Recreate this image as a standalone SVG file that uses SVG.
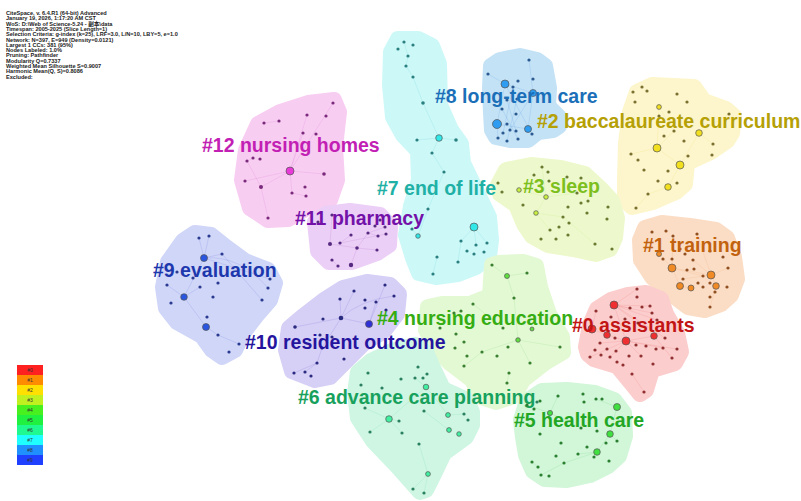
<svg xmlns="http://www.w3.org/2000/svg" width="801" height="501" viewBox="0 0 801 501">
<style>
.hull{stroke-width:16;stroke-linejoin:round}
.lbl{font-family:"Liberation Sans",Arial,sans-serif;font-weight:bold;font-size:19.5px}
.hdr{font-family:"Liberation Sans","Noto Sans CJK SC",sans-serif;font-weight:bold;font-size:5.6px;fill:#222}
.leg{font-family:"Liberation Sans",sans-serif;font-size:5px;fill:#333;text-anchor:middle}
.lk{fill:none;stroke-width:0.5;stroke-opacity:0.35}
.b{stroke:#555;stroke-width:0.7}
</style>
<rect width="801" height="501" fill="#ffffff"/>
<g id="header">
<text class="hdr" x="6" y="15">CiteSpace, v. 6.4.R1 (64-bit) Advanced</text>
<text class="hdr" x="6" y="20.3">January 19, 2026, 1:17:20 AM CST</text>
<text class="hdr" x="6" y="25.6">WoS: D:\Web of Science-5.24 - 副本\data</text>
<text class="hdr" x="6" y="30.9">Timespan: 2005-2025 (Slice Length=1)</text>
<text class="hdr" x="6" y="36.2">Selection Criteria: g-index (k=25), LRF=3.0, L/N=10, LBY=5, e=1.0</text>
<text class="hdr" x="6" y="41.5">Network: N=397, E=949 (Density=0.0121)</text>
<text class="hdr" x="6" y="46.8">Largest 1 CCs: 381 (95%)</text>
<text class="hdr" x="6" y="52.1">Nodes Labeled: 1.0%</text>
<text class="hdr" x="6" y="57.4">Pruning: Pathfinder</text>
<text class="hdr" x="6" y="62.7">Modularity Q=0.7337</text>
<text class="hdr" x="6" y="68">Weighted Mean Silhouette S=0.9007</text>
<text class="hdr" x="6" y="73.3">Harmonic Mean(Q, S)=0.8086</text>
<text class="hdr" x="6" y="78.6">Excluded:</text>
</g>
<g id="legend">
<rect x="17" y="365" width="26" height="10" fill="#ff2020"/>
<rect x="17" y="375" width="26" height="10" fill="#ff8c00"/>
<rect x="17" y="385" width="26" height="10" fill="#ffe000"/>
<rect x="17" y="395" width="26" height="10" fill="#c0f020"/>
<rect x="17" y="405" width="26" height="10" fill="#48f020"/>
<rect x="17" y="415" width="26" height="10" fill="#20f040"/>
<rect x="17" y="425" width="26" height="10" fill="#20f890"/>
<rect x="17" y="435" width="26" height="10" fill="#20ffff"/>
<rect x="17" y="445" width="26" height="10" fill="#2090ff"/>
<rect x="17" y="455" width="26" height="10" fill="#2040ff"/>
<text class="leg" x="30" y="371.8">#0</text>
<text class="leg" x="30" y="381.8">#1</text>
<text class="leg" x="30" y="391.8">#2</text>
<text class="leg" x="30" y="401.8">#3</text>
<text class="leg" x="30" y="411.8">#4</text>
<text class="leg" x="30" y="421.8">#5</text>
<text class="leg" x="30" y="431.8">#6</text>
<text class="leg" x="30" y="441.8">#7</text>
<text class="leg" x="30" y="451.8">#8</text>
<text class="leg" x="30" y="461.8">#9</text>
</g>
<g id="hulls">
<polygon class="hull" fill="#f8cdf2" stroke="#f8cdf2" points="242,180 246,150 258,124 280,112 308,103 334,100 339,112 335,147 337,180 330,200 305,209 288,219 268,220 250,208"/>
<polygon class="hull" fill="#eccff6" stroke="#eccff6" points="315,222 326,214 350,211 380,215 390,226 389,245 377,253 352,262 329,262 318,251"/>
<polygon class="hull" fill="#d0d6f8" stroke="#d0d6f8" points="163,287 168,262 183,241 195,233 211,235 226,247 245,261 268,270 275,283 270,300 257,315 244,332 235,350 222,357 212,350 202,336 177,322 166,308"/>
<polygon class="hull" fill="#d6cff6" stroke="#d6cff6" points="286,350 289,328 302,317 324,300 343,288 367,282 390,285 399,294 397,314 384,331 363,344 344,363 330,377 315,380 292,371"/>
<polygon class="hull" fill="#cdf8f8" stroke="#cdf8f8" points="391,52 398,39 418,39 432,46 439,64 440,105 451,130 461,144 463,163 476,190 489,217 491,240 489,257 476,267 458,274 436,277 419,273 413,258 406,235 411,206 419,180 418,151 403,135 393,117 390,85"/>
<polygon class="hull" fill="#c4e2f6" stroke="#c4e2f6" points="491,66 500,60 520,56 537,60 545,66 549,88 548,106 559,117 559,126 553,130 538,132 528,140 510,140 496,137 492,130 491,113 490,88"/>
<polygon class="hull" fill="#fdf6cc" stroke="#fdf6cc" points="626,143 630,112 637,92 652,85 694,87 704,101 726,109 734,116 732,133 727,141 711,152 687,163 685,184 676,192 653,202 632,207 625,200 625,180"/>
<polygon class="hull" fill="#edf9cd" stroke="#edf9cd" points="498,185 506,170 531,165 561,168 585,174 600,188 612,201 617,218 615,238 610,249 596,254 573,249 548,245 532,236 524,224 516,205 500,194"/>
<polygon class="hull" fill="#fbddc6" stroke="#fbddc6" points="640,240 645,228 662,223 690,226 716,230 727,238 734,257 737,279 731,295 721,304 705,310 688,307 671,294 652,277 641,260"/>
<polygon class="hull" fill="#fbcdcd" stroke="#fbcdcd" points="586,347 590,325 597,309 611,300 628,295 646,293 661,299 666,314 677,333 681,352 675,363 652,370 646,390 640,394 632,384 617,366 594,359 588,354"/>
<polygon class="hull" fill="#e3f9d4" stroke="#e3f9d4" points="428,307 442,304 470,304 490,296 492,265 498,263 523,262 536,266 540,287 549,314 562,337 563,352 546,362 523,380 514,396 496,402 481,397 472,380 451,364 437,350 426,330"/>
<polygon class="hull" fill="#d1f6d8" stroke="#d1f6d8" points="521,420 527,401 542,391 567,390 595,393 614,400 624,413 625,436 619,456 608,466 590,475 567,480 545,479 533,471 526,455 523,437"/>
<polygon class="hull" fill="#cff6e3" stroke="#cff6e3" points="358,372 371,361 392,351 415,345 426,352 432,366 443,389 467,400 472,412 472,425 466,437 444,453 433,476 426,490 420,492 412,483 396,465 373,441 358,418 355,393"/>
</g>
<g id="connectors">
<g stroke="#d070c8" class="lk"><path d="M290,171L261,187M290,171L324,174M290,171L292,193M290,171L303,133M290,171L245,181M290,171L307,115M261,187L247,161M261,187L268,218M292,193L306,196M279,121L264,123M253,158L247,161M290,171L333,103"/></g>
<g stroke="#a060c8" class="lk"><path d="M357,248L330,244M357,248L368,233M357,248L351,265M368,233L385,227M368,233L378,236M351,235L340,243M332,260L338,266M380,220L375,226M357,248L377,250M330,244L332,215M340,243L386,234"/></g>
<g stroke="#6070d8" class="lk"><path d="M204,258L199,238M204,258L222,254M204,258L184,297M184,297L206,327M184,297L167,285M184,297L200,287M206,327L218,335M218,335L239,344M204,258L270,279M222,254L262,300M209,236L204,258M204,258Q240,255 268,288"/></g>
<g stroke="#6a60d0" class="lk"><path d="M341,318L354,291M341,318L369,324M341,318L295,327M341,318L322,348M369,324L385,285M369,324L376,302M322,348L317,363M317,363L305,372M317,363L294,373M340,299L341,318M341,318Q360,300 394,296"/></g>
<g stroke="#50c8c8" class="lk"><path d="M404,42L408,56L406,66L413,77L423,103L439,138M439,138L417,140M439,138L456,140M439,138L432,153L444,172L428,209L418,236M474,227L461,241M474,227L487,243M474,227L476,245M461,241L458,262M437,257L433,274M412,229L418,236"/></g>
<g stroke="#4a98e0" class="lk"><path d="M505,84L533,93M505,84L497,124M533,93L528,129M533,93L529,60M497,124L528,129M507,100L516,131M517,99L507,141M488,74L505,84M502,109L518,139M510,130L533,93M497,124L498,138M505,84L532,134M513,87L503,133"/></g>
<g stroke="#e8d860" class="lk"><path d="M657,148L680,165M657,148L674,131M657,148L631,154M680,165L668,187M680,165L699,133M668,187L648,194L636,208M659,107L674,131M699,133L729,114M699,133L713,144M657,148L659,107"/></g>
<g stroke="#b8e070" class="lk"><path d="M546,197L519,190M546,197L536,213M546,197L577,193M536,213L563,217M536,213L550,230M563,217L595,244M546,197L542,167"/></g>
<g stroke="#f0a060" class="lk"><path d="M672,268L711,275M672,268L659,254M672,268L680,286M711,275L716,286M711,275L728,268M711,275L693,260M680,286L691,288M716,286L710,307M672,268L673,236M711,275L697,234M672,268L703,276M711,275L683,279"/></g>
<g stroke="#f07070" class="lk"><path d="M614,305L637,289M614,305L650,306M614,305L652,313M614,305L657,320M614,305L638,323M614,305L665,338M614,305L626,341M626,341L607,335M626,341L654,336M626,341L641,356M626,341L600,343M626,341L677,349M626,341L610,357M592,329L607,335M592,329L596,311M654,336L672,358M632,374L644,392M614,305L630,308M626,341L663,348M626,341L590,357"/></g>
<g stroke="#80d070" class="lk"><path d="M507,276L527,273M507,276L514,298M514,298L518,340M518,340L482,352M518,340L530,363M503,328L473,304M482,352L464,366M509,373L507,383M507,276L492,265M518,340L560,347"/></g>
<g stroke="#60d8a0" class="lk"><path d="M389,419L365,408M389,419L399,421M389,419L370,432M426,387L415,378M426,387L448,415M448,415L464,414M424,411L449,430M419,444L428,474L424,493M428,474L413,489M402,433L389,419M426,387L389,419"/></g>
<g stroke="#60d070" class="lk"><path d="M617,407L596,399M610,434L597,452M610,434L617,441M597,452L578,454M597,452L564,463M550,413L527,405M550,413L581,428M564,463L541,475M532,462L538,467M617,407L610,434M550,413L558,396"/></g>
</g>
<g id="cluster-12" fill="#7a2a7a">
<circle cx="333" cy="103" r="1.6"/><circle cx="307" cy="115" r="1.6"/><circle cx="326" cy="116" r="1.6"/><circle cx="264" cy="123" r="1.6"/><circle cx="279" cy="121" r="1.6"/><circle cx="303" cy="133" r="1.6"/><circle cx="316" cy="134" r="1.6"/><circle cx="247" cy="161" r="1.6"/><circle cx="253" cy="158" r="1.6"/><circle cx="260" cy="159" r="1.6"/><circle cx="324" cy="174" r="1.8"/><circle cx="245" cy="181" r="1.6"/><circle cx="261" cy="187" r="2"/><circle cx="292" cy="193" r="1.6"/><circle cx="305" cy="187" r="1.6"/><circle cx="306" cy="196" r="1.6"/><circle cx="268" cy="218" r="1.6"/>
<circle class="b" cx="290" cy="171" r="4" fill="#e83ad8"/>
<text class="lbl" x="202" y="152" fill="#c21fb4">#12 nursing homes</text>
</g>
<g id="cluster-11" fill="#562a80">
<circle cx="332" cy="215" r="1.6"/><circle cx="318" cy="222" r="1.6"/><circle cx="351" cy="235" r="1.6"/><circle cx="368" cy="233" r="1.6"/><circle cx="378" cy="236" r="1.6"/><circle cx="386" cy="234" r="1.6"/><circle cx="330" cy="244" r="2"/><circle cx="340" cy="243" r="1.6"/><circle cx="357" cy="248" r="1.8"/><circle cx="377" cy="250" r="1.6"/><circle cx="332" cy="260" r="1.6"/><circle cx="338" cy="266" r="1.6"/><circle cx="351" cy="265" r="2.2"/><circle cx="375" cy="226" r="1.6"/><circle cx="385" cy="227" r="1.6"/><circle cx="380" cy="220" r="1.6"/>
<text class="lbl" x="295" y="225" fill="#7311a8">#11 pharmacy</text>
</g>
<g id="cluster-9" fill="#2a3a90">
<circle cx="199" cy="238" r="1.6"/><circle cx="209" cy="236" r="1.6"/><circle cx="222" cy="254" r="1.6"/><circle cx="177" cy="272" r="1.6"/><circle cx="193" cy="278" r="1.6"/><circle cx="200" cy="287" r="1.6"/><circle cx="218" cy="283" r="1.6"/><circle cx="167" cy="285" r="1.6"/><circle cx="213" cy="297" r="1.6"/><circle cx="270" cy="279" r="1.6"/><circle cx="268" cy="288" r="1.6"/><circle cx="262" cy="300" r="1.6"/><circle cx="171" cy="303" r="1.6"/><circle cx="207" cy="317" r="1.6"/><circle cx="218" cy="335" r="1.6"/><circle cx="239" cy="344" r="1.6"/><circle cx="229" cy="352" r="1.6"/>
<circle class="b" cx="204" cy="258" r="3.5" fill="#2a55e0"/><circle class="b" cx="184" cy="297" r="3.3" fill="#2a55e0"/><circle class="b" cx="206" cy="327" r="3.5" fill="#2a55e0"/>
<text class="lbl" x="153" y="277" fill="#1d37ad">#9 evaluation</text>
</g>
<g id="cluster-10" fill="#2a2a80">
<circle cx="385" cy="285" r="1.6"/><circle cx="394" cy="296" r="1.6"/><circle cx="354" cy="291" r="1.6"/><circle cx="340" cy="299" r="1.6"/><circle cx="365" cy="300" r="1.6"/><circle cx="376" cy="302" r="1.6"/><circle cx="365" cy="308" r="1.6"/><circle cx="386" cy="310" r="1.6"/><circle cx="323" cy="319" r="1.6"/><circle cx="295" cy="327" r="1.8"/><circle cx="320" cy="335" r="1.6"/><circle cx="332" cy="337" r="1.6"/><circle cx="322" cy="348" r="1.6"/><circle cx="344" cy="359" r="1.6"/><circle cx="317" cy="363" r="1.6"/><circle cx="294" cy="373" r="1.6"/><circle cx="305" cy="372" r="1.6"/><circle cx="311" cy="376" r="1.6"/><circle cx="341" cy="318" r="2.3"/>
<circle class="b" cx="369" cy="324" r="3.5" fill="#3030d8"/>
<text class="lbl" x="245" y="349" fill="#25149e">#10 resident outcome</text>
</g>
<g id="cluster-7" fill="#2a8080">
<circle cx="404" cy="42" r="1.6"/><circle cx="413" cy="45" r="1.6"/><circle cx="398" cy="49" r="1.6"/><circle cx="408" cy="56" r="1.6"/><circle cx="406" cy="66" r="1.6"/><circle cx="413" cy="77" r="1.6"/><circle cx="423" cy="103" r="1.8"/><circle cx="417" cy="140" r="1.6"/><circle cx="456" cy="140" r="1.8"/><circle cx="432" cy="153" r="1.6"/><circle cx="444" cy="172" r="1.6"/><circle cx="428" cy="209" r="1.6"/><circle cx="412" cy="229" r="1.6"/><circle cx="461" cy="241" r="1.6"/><circle cx="476" cy="245" r="1.6"/><circle cx="487" cy="243" r="1.6"/><circle cx="467" cy="251" r="1.6"/><circle cx="474" cy="254" r="1.6"/><circle cx="484" cy="252" r="1.6"/><circle cx="437" cy="257" r="1.6"/><circle cx="458" cy="262" r="1.6"/><circle cx="433" cy="274" r="1.6"/>
<circle class="b" cx="439" cy="138" r="3.3" fill="#30e8e8"/><circle class="b" cx="474" cy="227" r="4" fill="#30e8e8"/><circle class="b" cx="418" cy="236" r="2.3" fill="#30e8e8"/>
<text class="lbl" x="377" y="195" fill="#1fb0a6">#7 end of life</text>
</g>
<g id="cluster-8" fill="#2a5a90">
<circle cx="529" cy="60" r="1.6"/><circle cx="488" cy="74" r="1.6"/><circle cx="513" cy="87" r="1.6"/><circle cx="518" cy="81" r="1.6"/><circle cx="533" cy="79" r="1.6"/><circle cx="507" cy="100" r="1.6"/><circle cx="517" cy="99" r="1.6"/><circle cx="502" cy="109" r="1.6"/><circle cx="516" cy="114" r="1.6"/><circle cx="507" cy="124" r="1.6"/><circle cx="532" cy="134" r="1.6"/><circle cx="503" cy="133" r="1.6"/><circle cx="498" cy="138" r="1.6"/><circle cx="507" cy="141" r="1.6"/><circle cx="518" cy="139" r="1.6"/><circle cx="516" cy="131" r="1.6"/><circle cx="510" cy="130" r="1.6"/>
<circle class="b" cx="505" cy="84" r="4" fill="#2e9cf0"/><circle class="b" cx="533" cy="93" r="3.5" fill="#2e9cf0"/><circle class="b" cx="497" cy="124" r="4.5" fill="#2e9cf0"/><circle class="b" cx="528" cy="129" r="3.5" fill="#2e9cf0"/>
<text class="lbl" x="435" y="103" fill="#1b6fb8">#8 long-term care</text>
</g>
<g id="cluster-2" fill="#7a7030">
<circle cx="633" cy="92" r="1.6"/><circle cx="642" cy="87" r="1.6"/><circle cx="647" cy="91" r="1.6"/><circle cx="635" cy="102" r="1.6"/><circle cx="677" cy="94" r="1.6"/><circle cx="687" cy="102" r="1.6"/><circle cx="669" cy="112" r="1.6"/><circle cx="729" cy="114" r="1.6"/><circle cx="659" cy="116" r="1.6"/><circle cx="674" cy="131" r="1.6"/><circle cx="664" cy="136" r="1.6"/><circle cx="684" cy="141" r="1.6"/><circle cx="713" cy="144" r="1.6"/><circle cx="631" cy="154" r="1.6"/><circle cx="638" cy="160" r="1.6"/><circle cx="688" cy="156" r="1.6"/><circle cx="712" cy="155" r="1.6"/><circle cx="644" cy="170" r="1.6"/><circle cx="668" cy="171" r="1.6"/><circle cx="658" cy="181" r="1.6"/><circle cx="677" cy="183" r="1.6"/><circle cx="648" cy="194" r="1.6"/><circle cx="636" cy="208" r="1.6"/>
<circle class="b" cx="659" cy="107" r="2.4" fill="#f2e020"/><circle class="b" cx="699" cy="133" r="3.3" fill="#f2e020"/><circle class="b" cx="657" cy="148" r="4" fill="#f2e020"/><circle class="b" cx="680" cy="165" r="4" fill="#f2e020"/><circle class="b" cx="668" cy="187" r="3.3" fill="#f2e020"/>
<text class="lbl" x="537" y="128" fill="#b5a006">#2 baccalaureate curriculum</text>
</g>
<g id="cluster-3" fill="#6a7a30">
<circle cx="542" cy="167" r="1.6"/><circle cx="548" cy="172" r="1.6"/><circle cx="534" cy="175" r="1.6"/><circle cx="567" cy="177" r="1.6"/><circle cx="581" cy="178" r="1.6"/><circle cx="549" cy="181" r="1.6"/><circle cx="498" cy="183" r="1.6"/><circle cx="502" cy="192" r="1.6"/><circle cx="577" cy="193" r="1.6"/><circle cx="523" cy="205" r="1.6"/><circle cx="581" cy="203" r="1.6"/><circle cx="588" cy="201" r="1.6"/><circle cx="568" cy="207" r="1.6"/><circle cx="608" cy="207" r="1.6"/><circle cx="563" cy="217" r="1.6"/><circle cx="587" cy="213" r="1.6"/><circle cx="607" cy="219" r="1.6"/><circle cx="569" cy="223" r="1.6"/><circle cx="559" cy="227" r="1.6"/><circle cx="550" cy="230" r="1.6"/><circle cx="568" cy="235" r="1.6"/><circle cx="541" cy="239" r="1.6"/><circle cx="556" cy="239" r="1.6"/><circle cx="595" cy="244" r="1.6"/><circle cx="612" cy="249" r="1.6"/>
<circle class="b" cx="519" cy="190" r="2.3" fill="#c8f040"/><circle class="b" cx="546" cy="197" r="2.3" fill="#c8f040"/><circle class="b" cx="536" cy="213" r="2.3" fill="#c8f040"/>
<text class="lbl" x="523" y="193" fill="#7dbf1d">#3 sleep</text>
</g>
<g id="cluster-1" fill="#904f20">
<circle cx="652" cy="232" r="1.6"/><circle cx="666" cy="231" r="1.6"/><circle cx="697" cy="234" r="1.6"/><circle cx="673" cy="236" r="1.6"/><circle cx="663" cy="259" r="1.6"/><circle cx="672" cy="259" r="1.6"/><circle cx="680" cy="249" r="1.6"/><circle cx="685" cy="254" r="1.6"/><circle cx="693" cy="260" r="1.6"/><circle cx="710" cy="251" r="1.6"/><circle cx="723" cy="257" r="1.6"/><circle cx="687" cy="270" r="1.6"/><circle cx="694" cy="269" r="1.6"/><circle cx="728" cy="268" r="1.6"/><circle cx="703" cy="276" r="1.6"/><circle cx="683" cy="279" r="1.6"/><circle cx="698" cy="283" r="1.6"/><circle cx="710" cy="283" r="1.6"/><circle cx="703" cy="287" r="1.6"/><circle cx="727" cy="287" r="1.6"/><circle cx="715" cy="292" r="1.6"/><circle cx="710" cy="297" r="1.6"/><circle cx="710" cy="307" r="1.6"/>
<circle class="b" cx="659" cy="254" r="2.5" fill="#f08a24"/><circle class="b" cx="672" cy="268" r="4" fill="#f08a24"/><circle class="b" cx="711" cy="275" r="4" fill="#f08a24"/><circle class="b" cx="680" cy="286" r="3.5" fill="#f08a24"/><circle class="b" cx="691" cy="288" r="3" fill="#f08a24"/><circle class="b" cx="716" cy="286" r="3.3" fill="#f08a24"/>
<text class="lbl" x="643" y="252" fill="#c2620e">#1 training</text>
</g>
<g id="cluster-4" fill="#3a8030">
<circle cx="527" cy="273" r="1.6"/><circle cx="492" cy="265" r="1.6"/><circle cx="514" cy="298" r="1.6"/><circle cx="473" cy="304" r="1.6"/><circle cx="461" cy="311" r="1.6"/><circle cx="454" cy="313" r="1.6"/><circle cx="440" cy="328" r="1.6"/><circle cx="456" cy="334" r="1.6"/><circle cx="503" cy="328" r="1.6"/><circle cx="464" cy="342" r="1.6"/><circle cx="482" cy="352" r="1.6"/><circle cx="497" cy="356" r="1.6"/><circle cx="508" cy="347" r="1.6"/><circle cx="560" cy="347" r="1.6"/><circle cx="530" cy="363" r="1.6"/><circle cx="455" cy="348" r="1.6"/><circle cx="467" cy="356" r="1.6"/><circle cx="464" cy="366" r="1.6"/><circle cx="509" cy="373" r="1.6"/><circle cx="507" cy="383" r="1.6"/>
<circle class="b" cx="507" cy="276" r="2.5" fill="#60e040"/><circle class="b" cx="518" cy="340" r="2.3" fill="#60e040"/><circle class="b" cx="532" cy="329" r="2" fill="#60e040"/>
<text class="lbl" x="377" y="325" fill="#35ad12">#4 nursing education</text>
</g>
<g id="cluster-0" fill="#903030">
<circle cx="637" cy="289" r="1.6"/><circle cx="637" cy="297" r="1.6"/><circle cx="630" cy="308" r="1.6"/><circle cx="642" cy="307" r="1.6"/><circle cx="650" cy="306" r="1.6"/><circle cx="596" cy="311" r="1.6"/><circle cx="652" cy="313" r="1.6"/><circle cx="611" cy="317" r="1.6"/><circle cx="625" cy="319" r="1.6"/><circle cx="638" cy="323" r="1.6"/><circle cx="657" cy="320" r="1.6"/><circle cx="665" cy="338" r="1.6"/><circle cx="615" cy="338" r="1.6"/><circle cx="600" cy="343" r="1.6"/><circle cx="636" cy="345" r="1.6"/><circle cx="646" cy="346" r="1.6"/><circle cx="656" cy="349" r="1.6"/><circle cx="663" cy="348" r="1.6"/><circle cx="677" cy="349" r="1.6"/><circle cx="595" cy="350" r="1.6"/><circle cx="607" cy="349" r="1.6"/><circle cx="616" cy="351" r="1.6"/><circle cx="590" cy="357" r="1.6"/><circle cx="601" cy="355" r="1.6"/><circle cx="610" cy="357" r="1.6"/><circle cx="629" cy="356" r="1.6"/><circle cx="641" cy="356" r="1.6"/><circle cx="672" cy="358" r="1.6"/><circle cx="653" cy="364" r="1.6"/><circle cx="617" cy="362" r="1.6"/><circle cx="623" cy="365" r="1.6"/><circle cx="632" cy="374" r="1.6"/><circle cx="644" cy="392" r="1.6"/>
<circle class="b" cx="614" cy="305" r="4" fill="#f03030"/><circle class="b" cx="592" cy="329" r="4" fill="#f03030"/><circle class="b" cx="607" cy="335" r="3.3" fill="#f03030"/><circle class="b" cx="626" cy="341" r="4" fill="#f03030"/><circle class="b" cx="654" cy="336" r="3.3" fill="#f03030"/>
<text class="lbl" x="572" y="332" fill="#c21414">#0 assistants</text>
</g>
<g id="cluster-6" fill="#2a8060">
<circle cx="418" cy="367" r="1.6"/><circle cx="401" cy="379" r="1.6"/><circle cx="415" cy="378" r="1.6"/><circle cx="423" cy="378" r="1.6"/><circle cx="427" cy="374" r="1.6"/><circle cx="368" cy="373" r="1.6"/><circle cx="361" cy="385" r="1.6"/><circle cx="382" cy="388" r="1.6"/><circle cx="365" cy="408" r="1.6"/><circle cx="399" cy="421" r="1.6"/><circle cx="424" cy="411" r="1.6"/><circle cx="464" cy="414" r="1.6"/><circle cx="468" cy="420" r="1.6"/><circle cx="370" cy="432" r="1.6"/><circle cx="402" cy="433" r="1.6"/><circle cx="419" cy="444" r="1.6"/><circle cx="413" cy="489" r="1.6"/><circle cx="424" cy="493" r="1.6"/><circle cx="537" cy="402" r="1.6"/>
<circle class="b" cx="389" cy="419" r="3.3" fill="#40f0a0"/><circle class="b" cx="426" cy="387" r="2.8" fill="#40f0a0"/><circle class="b" cx="448" cy="415" r="2.4" fill="#40f0a0"/><circle class="b" cx="449" cy="430" r="2.4" fill="#40f0a0"/><circle class="b" cx="459" cy="434" r="2.3" fill="#40f0a0"/><circle class="b" cx="428" cy="474" r="2.4" fill="#40f0a0"/>
<text class="lbl" x="298" y="404" fill="#17a15c">#6 advance care planning</text>
</g>
<g id="cluster-5" fill="#2a8030">
<circle cx="558" cy="396" r="1.6"/><circle cx="583" cy="394" r="1.6"/><circle cx="584" cy="402" r="1.6"/><circle cx="596" cy="399" r="1.6"/><circle cx="602" cy="399" r="1.6"/><circle cx="527" cy="405" r="1.6"/><circle cx="540" cy="401" r="1.6"/><circle cx="534" cy="409" r="1.6"/><circle cx="581" cy="428" r="1.6"/><circle cx="597" cy="431" r="1.6"/><circle cx="540" cy="434" r="1.6"/><circle cx="617" cy="441" r="1.6"/><circle cx="561" cy="443" r="1.6"/><circle cx="606" cy="443" r="1.6"/><circle cx="587" cy="447" r="1.6"/><circle cx="578" cy="454" r="1.6"/><circle cx="594" cy="457" r="1.6"/><circle cx="556" cy="456" r="1.6"/><circle cx="609" cy="461" r="1.6"/><circle cx="532" cy="462" r="1.6"/><circle cx="564" cy="463" r="1.6"/><circle cx="538" cy="467" r="1.6"/><circle cx="541" cy="475" r="1.6"/><circle cx="549" cy="476" r="1.6"/>
<circle class="b" cx="617" cy="407" r="3.5" fill="#40e040"/><circle class="b" cx="610" cy="434" r="3.3" fill="#40e040"/><circle class="b" cx="597" cy="452" r="3.3" fill="#40e040"/><circle class="b" cx="550" cy="413" r="2.6" fill="#40e040"/>
<text class="lbl" x="514" y="427" fill="#22a624">#5 health care</text>
</g>
</svg>
